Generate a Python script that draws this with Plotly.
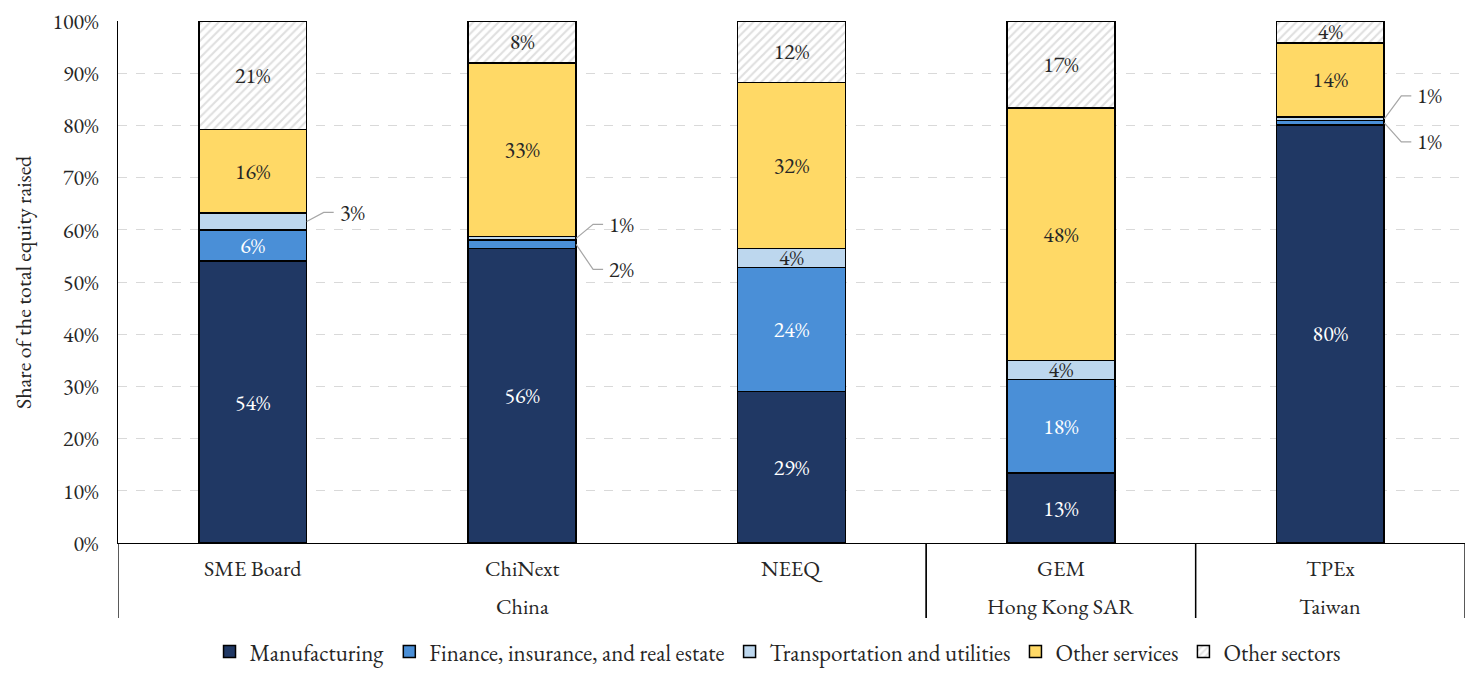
import plotly.graph_objects as go

# ---------------- data ----------------
markets = ["SME Board", "ChiNext", "NEEQ", "GEM", "TPEx"]
regions = ["China", "China", "China", "Hong Kong SAR", "Taiwan"]

series_names = ["Manufacturing", "Finance, insurance, and real estate",
                "Transportation and utilities", "Other services", "Other sectors"]

manufacturing = [54.0, 56.4, 29.0, 13.4, 80.1]
finance = [6.0, 1.6, 23.8, 17.9, 0.8]
transport = [3.2, 0.7, 3.6, 3.7, 0.7]
other_services = [16.0, 33.3, 31.8, 48.3, 14.2]
other_sectors = [20.8, 8.0, 11.8, 16.7, 4.2]

# segments labelled outside the bar with a leader line: (market, series index, elbow rise px)
callouts = [(0, 2, 9), (1, 2, 14), (1, 1, -25), (4, 2, 23), (4, 1, -19)]

# ---------------- styling ----------------
FONT = "EB Garamond, Garamond, Liberation Serif, serif"
FS = 22
colors = ["#203864", "#4A8FD7", "#BDD7EE", "#FFD966", "#FFFFFF"]
text_colors = ["#FFFFFF", "#FFFFFF", "#262626", "#262626", "#262626"]

values = [manufacturing, finance, transport, other_services, other_sectors]
xs = list(range(len(markets)))
bar_w = 0.4

fig = go.Figure()
callout_set = {(m, s) for m, s, _ in callouts}
for si, (name, vals) in enumerate(zip(series_names, values)):
    texts = []
    for mi, v in enumerate(vals):
        texts.append("" if (mi, si) in callout_set else f"{round(v):d}%")
    marker = dict(color=colors[si], line=dict(color="#000000", width=1.5))
    if si == 4:
        marker["pattern"] = dict(shape="/", fgcolor="#BFBFBF", bgcolor="#FFFFFF",
                                 size=6, solidity=0.35)
    fig.add_trace(go.Bar(
        x=xs, y=vals, name=name, width=bar_w, marker=marker,
        text=texts, textposition="inside", insidetextanchor="middle",
        constraintext="none", textangle=0,
        textfont=dict(family=FONT, size=FS, color=text_colors[si]),
        hoverinfo="skip",
    ))

# callout leader lines and labels
for mi, si, rise in callouts:
    base = sum(values[k][mi] for k in range(si))
    mid = base + values[si][mi] / 2
    fig.add_shape(type="path", xref="x", yref="y", xsizemode="pixel", ysizemode="pixel",
                  xanchor=mi, yanchor=mid,
                  path=f"M 54,0 L 71,{rise} L 81,{rise}",
                  line=dict(color="#A6A6A6", width=1.2))
    fig.add_annotation(x=mi, y=mid, xref="x", yref="y", xshift=85, yshift=rise,
                       xanchor="left", yanchor="middle", showarrow=False,
                       text=f"{round(values[si][mi]):d}%",
                       font=dict(family=FONT, size=FS, color="#262626"))

# category labels (level 1 and level 2)
for mi, m in enumerate(markets):
    fig.add_annotation(x=mi, y=0, xref="x", yref="paper", yshift=-25,
                       yanchor="middle", showarrow=False, text=m,
                       font=dict(family=FONT, size=FS, color="#262626"))

groups = []
for mi, r in enumerate(regions):
    if groups and groups[-1][0] == r:
        groups[-1][1].append(mi)
    else:
        groups.append((r, [mi]))

line_kw = dict(color="#000000", width=1.3)
for r, idx in groups:
    center = sum(idx) / len(idx)
    fig.add_annotation(x=center, y=0, xref="x", yref="paper", yshift=-63,
                       yanchor="middle", showarrow=False, text=r,
                       font=dict(family=FONT, size=FS, color="#262626"))
    for edge in (idx[0] - 0.5, idx[-1] + 0.5):
        fig.add_shape(type="line", xref="x", yref="paper", ysizemode="pixel",
                      yanchor=0, x0=edge, x1=edge, y0=0, y1=-75, line=line_kw)

# y axis title
fig.add_annotation(x=0, y=0.5, xref="paper", yref="paper", xshift=-95,
                   xanchor="center", yanchor="middle",
                   textangle=-90, showarrow=False,
                   text="Share of the total equity raised",
                   font=dict(family=FONT, size=FS, color="#262626"))

# page body has an 8px margin, so the figure is 8px smaller to fit the window
fig.update_layout(
    width=1465, height=665,
    margin=dict(l=110, r=8, t=13, b=130, autoexpand=False),
    barmode="stack",
    plot_bgcolor="white", paper_bgcolor="white",
    font=dict(family=FONT, size=FS, color="#262626"),
    uniformtext=dict(minsize=FS, mode="show"),
    showlegend=True,
    legend=dict(orientation="h", x=0.49, xanchor="center", y=-0.208, yanchor="middle",
                font=dict(family=FONT, size=23, color="#262626"),
                itemwidth=30, traceorder="normal"),
    xaxis=dict(range=[-0.5, len(markets) - 0.5], showticklabels=False, showgrid=False,
               zeroline=False, showline=True, linecolor="#000000", linewidth=1.3,
               tickvals=xs, ticks=""),
    yaxis=dict(range=[0, 100], tickvals=list(range(0, 101, 10)),
               ticktext=[f"{v}%" for v in range(0, 101, 10)],
               showgrid=True, gridcolor="#D9D9D9", griddash="dash", gridwidth=1,
               zeroline=False, showline=True, linecolor="#000000", linewidth=1.3,
               ticks="", ticklabelstandoff=14, ticklabeloverflow="allow",
               tickfont=dict(family=FONT, size=FS, color="#262626")),
)

fig.write_html("out.html")
